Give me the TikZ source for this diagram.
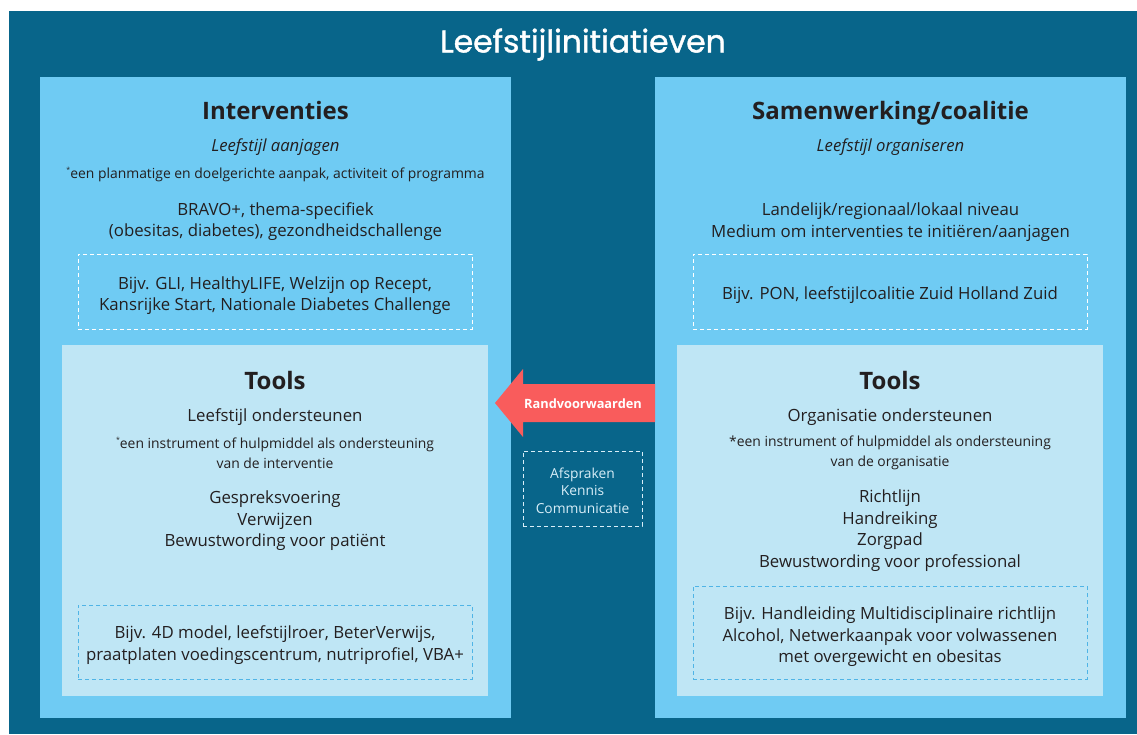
\documentclass[tikz,border=0pt]{standalone}
\usepackage{fontspec}
\setmainfont{Open Sans}
\newfontfamily\titlefont{Poppins}[UprightFeatures={FakeBold=1.2}]
\usetikzlibrary{positioning}
\definecolor{darkbg}{HTML}{08658A}
\definecolor{outerbox}{HTML}{6FCBF3}
\definecolor{innerbox}{HTML}{BFE6F5}
\definecolor{arrowred}{HTML}{F95C5C}
\definecolor{txt}{HTML}{231F20}
\definecolor{dashblue}{HTML}{4FB4E6}
\definecolor{paletxt}{HTML}{D8EEF8}
\newcommand{\fs}[2]{\fontsize{#1}{#2}\selectfont}
\newcommand{\supast}{\raisebox{0.42em}{\fs{7}{7}*}}
\begin{document}
\begin{tikzpicture}[x=1pt,y=-1pt,
  box/.style={anchor=north west,inner sep=0pt,outer sep=0pt,draw=none},
  dashbox/.style={box,draw,dashed,dash pattern=on 4pt off 3pt,line width=0.9pt},
  tx/.style={text=txt,align=center,inner sep=0pt},
  heading/.style={tx,anchor=base,font=\bfseries\fs{24}{28}},
  sub/.style={tx,anchor=base,font=\itshape\fs{16.7}{20}},
  note/.style={tx,font=\fs{13.9}{20}},
  body/.style={tx,font=\fs{16.8}{21.5}}]
\useasboundingbox (0,0) rectangle (1137,734);
\fill[white] (0,0) rectangle (1137,734);
% background
\node[box,fill=darkbg,minimum width=1128pt,minimum height=723pt] (bg) at (9,11) {};
\node[text=white,inner sep=0pt,anchor=base,font=\titlefont\fontsize{31.4}{34}\selectfont] (title) at (583,52.5) {Leefstijlinitiatieven};
% left column
\node[box,fill=outerbox,minimum width=471pt,minimum height=641pt] (left) at (40,77) {};
\node[box,fill=innerbox,minimum width=426pt,minimum height=351pt] (ltools) at (62,345) {};
\node[dashbox,draw=white,minimum width=394pt,minimum height=75pt] (ldash) at (78,254) {};
\node[dashbox,draw=dashblue,minimum width=394pt,minimum height=74pt] (ltdash) at (78,605) {};
\node[heading] (lhead) at (275.5,119) {Interventies};
\node[sub] (lsub) at (275.5,151.5) {Leefstijl aanjagen};
\node[note,anchor=base] (lnote) at (275.5,178) {\supast een planmatige en doelgerichte aanpak, activiteit of programma};
\node[body] (lbody) at (275.5,221.5) {BRAVO+, thema-specifiek\\(obesitas, diabetes), gezondheidschallenge};
\node[body] (ldtext) at (275,295.5) {Bijv. GLI, HealthyLIFE, Welzijn op Recept,\\Kansrijke Start, Nationale Diabetes Challenge};
\node[heading] (lthead) at (275,389) {Tools};
\node[body,anchor=base] (ltsub) at (275,421) {Leefstijl ondersteunen};
\node[note] (ltnote) at (275,453) {\supast een instrument of hulpmiddel als ondersteuning\\van de interventie};
\node[body] (ltbody) at (275,521) {Gespreksvoering\\Verwijzen\\Bewustwording voor patiënt};
\node[body] (ltdtext) at (275,645) {Bijv. 4D model, leefstijlroer, BeterVerwijs,\\praatplaten voedingscentrum, nutriprofiel, VBA+};
% right column
\node[box,fill=outerbox,minimum width=471pt,minimum height=641pt] (right) at (655,77) {};
\node[box,fill=innerbox,minimum width=426pt,minimum height=351pt] (rtools) at (677,345) {};
\node[dashbox,draw=white,minimum width=394pt,minimum height=75pt] (rdash) at (693,254) {};
\node[dashbox,draw=dashblue,minimum width=394pt,minimum height=93pt] (rtdash) at (693,586) {};
\node[heading] (rhead) at (890.5,119) {Samenwerking/coalitie};
\node[sub] (rsub) at (890.5,151) {Leefstijl organiseren};
\node[body] (rbody) at (890.5,222) {Landelijk/regionaal/lokaal niveau\\Medium om interventies te initiëren/aanjagen};
\node[body,anchor=base] (rdtext) at (890,299) {Bijv. PON, leefstijlcoalitie Zuid Holland Zuid};
\node[heading] (rthead) at (890,389) {Tools};
\node[body,anchor=base] (rtsub) at (890,421) {Organisatie ondersteunen};
\node[note] (rtnote) at (890,453) {*een instrument of hulpmiddel als ondersteuning\\van de organisatie};
\node[body] (rtbody) at (890,530.5) {Richtlijn\\Handreiking\\Zorgpad\\Bewustwording voor professional};
\node[body] (rtdtext) at (890,637) {Bijv. Handleiding Multidisciplinaire richtlijn\\Alcohol, Netwerkaanpak voor volwassenen\\met overgewicht en obesitas};
% arrow
\coordinate (tip) at (495,403);
\fill[arrowred] (tip) -- (523,369) -- (523,384) -- (right.west |- 0,384) -- (right.west |- 0,422) -- (523,422) -- (523,437) -- cycle;
\node[text=white,font=\bfseries\fs{12.8}{15},inner sep=0pt,anchor=base] (rand) at (583,408.5) {Randvoorwaarden};
\node[dashbox,draw=paletxt,line width=1pt,minimum width=119pt,minimum height=75pt] (afs) at (523,451) {};
\node[text=paletxt,align=center,inner sep=0pt,font=\fs{13.8}{17.5}] (afstext) at (582.5,490.5) {Afspraken\\Kennis\\Communicatie};
\end{tikzpicture}
\end{document}
